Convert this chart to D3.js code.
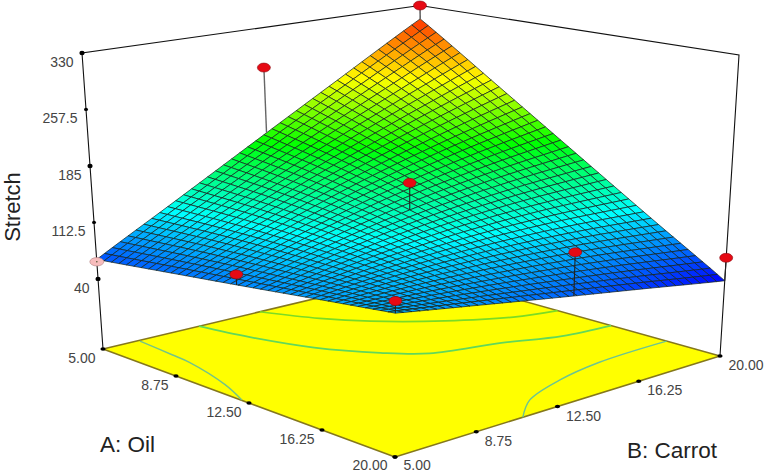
<!DOCTYPE html>
<html><head><meta charset="utf-8">
<style>html,body{margin:0;padding:0;background:#fff}svg{display:block}text{font-family:"Liberation Sans",Arial,sans-serif}</style>
<script src="https://cdn.jsdelivr.net/npm/d3@7"></script></head>
<body><svg id="c" width="765" height="472"></svg>
<script>
// ---- data ----
const factorTicks = [5, 8.75, 12.5, 16.25, 20];
const factorLabels = ["5.00", "8.75", "12.50", "16.25", "20.00"];
const stretchTicks = [40, 112.5, 185, 257.5, 330];
const stretchLabels = ["40", "112.5", "185", "257.5", "330"];
// Stretch at the factor ticks: rows A (Oil), columns B (Carrot)
const rowA5    = [65, 120, 179.5, 243, 311];
const rowA875  = [73, 115, 156.5, 196, 235];
const rowA125  = [80, 107, 131, 150, 165.5];
const rowA1625 = [86.5, 96, 102, 104, 102];
const rowA20   = [92, 82, 71, 59, 45];
// design points
const designA = [5, 5, 12.5, 20, 20, 12.05, 20, 5];
const designB = [20, 13, 12.5, 13.1, 20, 5, 5, 5];
const designZ = [330, 276, 164, 118, 74, 91, 104, 62];
// floor contours as [A, B] pairs
const contourTop    = [[5,12.35],[6.9,13.4],[8.3,14.5],[10,16.4],[11.3,18.4],[11.8,20]];
const contourMiddle = [[5,9.5],[7,10],[9.35,10.9],[11.3,12.2],[12.5,13.4],[13.3,16],[14.2,18],[14.5,20]];
const contourLeft   = [[5.07,6.67],[6.9,6.5],[7.9,6.4],[10.5,5.7],[12.1,5.03]];
const contourRight  = [[20,10.9],[18.8,12.3],[17.9,14.5],[17.4,16.8],[17.3,20]];

// ---- layout ----
const floorCorners = {ll:[103,349], hl:[395,457], lh:[423,273], hh:[720,356]};
const topCorners   = {ll:[82,53],   hl:[396,72],  lh:[420,5.5], hh:[739,55]};
const MESH = 40;
const svg = d3.select("#c");
const uA = d3.scaleLinear().domain([5,20]).range([0,1]);
const uB = d3.scaleLinear().domain([5,20]).range([0,1]);
const tZ = d3.scaleLinear().domain([-50,330]).range([0,1]);
const idx = d3.scaleLinear().domain([5,20]).range([0,4]);
const colour = d3.scaleLinear()
  .domain([45,111.5,178,244.5,311,330])
  .range(["#0000ff","#00ffff","#00ff00","#ffff00","#ff3000","#ff0000"])
  .interpolate(d3.interpolateRgb).clamp(true);

function bil(c,u,v,k){return (1-u)*(1-v)*c.ll[k]+u*(1-v)*c.hl[k]+(1-u)*v*c.lh[k]+u*v*c.hh[k];}
function project(A,B,z){
  const u=uA(A),v=uB(B),t=tZ(z);
  return [0,1].map(k=>bil(floorCorners,u,v,k)*(1-t)+bil(topCorners,u,v,k)*t);
}
const rows=[rowA5,rowA875,rowA125,rowA1625,rowA20];
function cr(p,s){
  const i=Math.min(p.length-2,Math.floor(s)),f=s-i;
  const p1=p[i],p2=p[i+1];
  const p0=i>0?p[i-1]:2*p1-p2,p3=i+2<p.length?p[i+2]:2*p2-p1;
  return .5*(2*p1+(p2-p0)*f+(2*p0-5*p1+4*p2-p3)*f*f+(3*p1-p0-3*p2+p3)*f*f*f);
}
function surf(A,B){return cr(rows.map(r=>cr(r,idx(B))),idx(A));}
const line=d3.line();
const g=svg.append("g");

// ---- floor ----
const floorPts=[[5,5],[20,5],[20,20],[5,20]].map(d=>project(d[0],d[1],-50));
g.append("path").attr("d",line(floorPts)+"Z").attr("fill","#ffff00").attr("stroke","#85781c").attr("stroke-width",1.5).attr("stroke-linejoin","round");
const cLine=d3.line().curve(d3.curveCatmullRom.alpha(.5));
[[contourTop,"#7cdc24",1.7],[contourMiddle,"#62d85a",1.7],[contourLeft,"#74c488",1.4],[contourRight,"#6cc492",1.4]].forEach(([c,col,w])=>{
  g.append("path").attr("d",cLine(c.map(d=>project(d[0],d[1],-50)))).attr("fill","none").attr("stroke",col).attr("stroke-width",w);
});

// ---- frame ----
const corner=(A,B,z)=>project(A,B,z);
g.append("path").attr("d",line([corner(5,5,-50),corner(5,5,330),corner(5,20,330),corner(20,20,330),corner(20,20,-50)]))
  .attr("fill","none").attr("stroke","#111").attr("stroke-width",1.1);

// ---- ticks ----
stretchTicks.forEach((z,i)=>{
  const p=project(5,5,z);
  g.append("ellipse").attr("cx",p[0]).attr("cy",p[1]).attr("rx",i%2?2:2.6).attr("ry",i%2?1.6:2.2).attr("fill","#000");
  g.append("text").attr("x",p[0]-8.5).attr("y",p[1]+14).attr("text-anchor","end").attr("font-size",14).attr("fill","#444").text(stretchLabels[i]);
});
factorTicks.forEach((a,i)=>{
  const p=project(a,5,-50);
  g.append("ellipse").attr("cx",p[0]).attr("cy",p[1]).attr("rx",2.6).attr("ry",1.8).attr("fill","#000");
  g.append("text").attr("x",p[0]-7.5).attr("y",Math.min(p[1]+14,470.4)).attr("text-anchor","end").attr("font-size",14).attr("fill","#444").text(factorLabels[i]);
});
factorTicks.forEach((b,i)=>{
  const p=project(20,b,-50);
  g.append("ellipse").attr("cx",p[0]).attr("cy",p[1]).attr("rx",2.6).attr("ry",1.8).attr("fill","#000");
  g.append("text").attr("x",p[0]+8.5).attr("y",Math.min(p[1]+14,470.4)).attr("font-size",14).attr("fill","#444").text(factorLabels[i]);
});

// ---- surface ----
const gridA=d3.range(MESH+1).map(i=>5+15*i/MESH), gridB=gridA;
const cells=[];
for(let i=0;i<MESH;i++)for(let j=0;j<MESH;j++)cells.push({i,j});
cells.sort((a,b)=>(a.i-a.j)-(b.i-b.j));
g.append("g").selectAll("path").data(cells).join("path")
  .attr("d",d=>{
    const q=[[d.i,d.j],[d.i+1,d.j],[d.i+1,d.j+1],[d.i,d.j+1]].map(([a,b])=>project(gridA[a],gridB[b],surf(gridA[a],gridB[b])));
    return line(q)+"Z";})
  .attr("fill",d=>colour(surf(gridA[d.i]+.1875,gridB[d.j]+.1875)))
  .attr("stroke","#14231e").attr("stroke-opacity",.72).attr("stroke-width",1).attr("stroke-linejoin","round");

// ---- design points ----
designZ.forEach((z,i)=>{
  const A=designA[i],B=designB[i],p=project(A,B,z),s=project(A,B,surf(A,B)),below=z<surf(A,B);
  if(!below) g.append("line").attr("x1",p[0]).attr("y1",p[1]).attr("x2",s[0]).attr("y2",s[1]).attr("stroke",i===1?"#666":"#222").attr("stroke-width",i===1?1.4:1.1);
  g.append("ellipse").attr("cx",p[0]).attr("cy",p[1]).attr("rx",below?7:6.5).attr("ry",below?4.2:4.5)
    .attr("fill",below?"#f7bcbc":"#e60a14").attr("stroke",below?"#b08080":"#8a0a10").attr("stroke-width",.6);
  if(below) g.append("circle").attr("cx",p[0]).attr("cy",p[1]).attr("r",.8).attr("fill","#553");
});

// ---- titles ----
svg.append("text").attr("transform","translate(20,207) rotate(-90)").attr("text-anchor","middle").attr("font-size",22).attr("fill","#222").text("Stretch");
svg.append("text").attr("x",100).attr("y",452).attr("font-size",22.5).attr("fill","#222").text("A: Oil");
svg.append("text").attr("x",627).attr("y",458).attr("font-size",22.5).attr("fill","#222").text("B: Carrot");
</script></body></html>
